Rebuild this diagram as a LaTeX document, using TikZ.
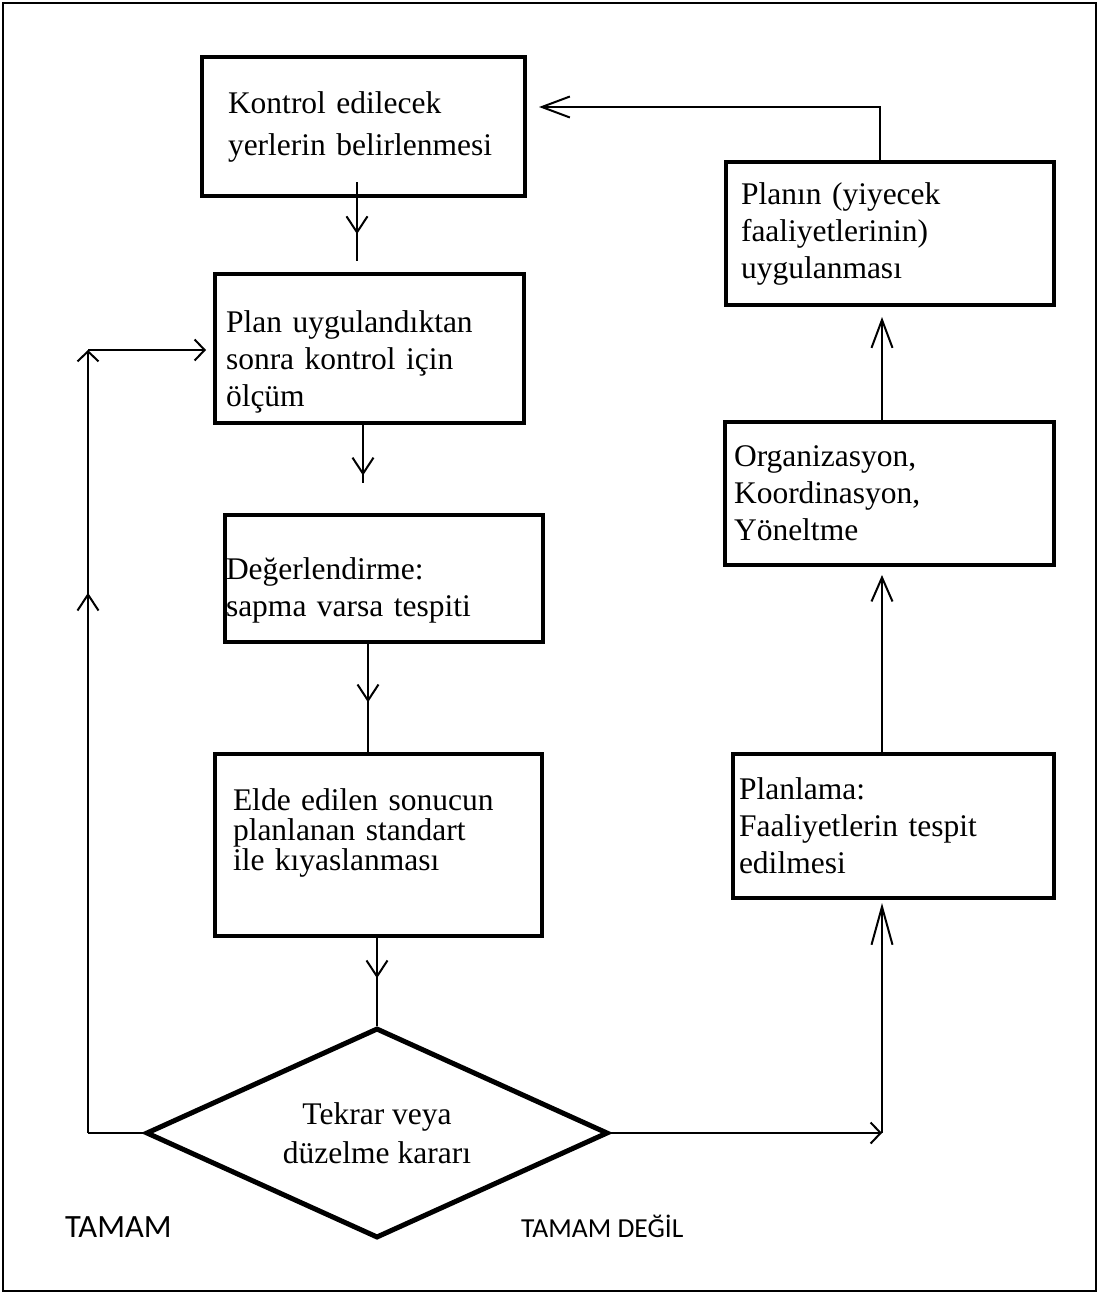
\documentclass[tikz,border=0pt]{standalone}
\usepackage{fontspec}
\setmainfont{Liberation Serif}
\newfontfamily\etiketfont{Carlito}
\usetikzlibrary{shapes.geometric,arrows.meta,decorations.markings,positioning}

\tikzset{
  kutu/.style={draw, line width=4pt, inner ysep=0pt, align=left, font=\fontsize{31.5}{37}\selectfont},
  karar/.style={draw, diamond, line width=5pt, aspect=2.2, inner sep=0pt, align=center, font=\fontsize{31.5}{39}\selectfont},
  etiket/.style={font=\etiketfont\fontsize{27.5}{30}\selectfont, inner sep=0pt, anchor=base west},
  ok/.style={line width=2pt, -{Straight Barb[length=#1, width=21pt]}},
  ok/.default=14pt,
  ortaok/.style={line width=2pt, postaction={decorate},
    decoration={markings, mark=at position #1 with {\arrow{Straight Barb[length=16pt, width=21pt]}}}}
}

\begin{document}
\begin{tikzpicture}[x=1pt,y=-1pt]
\useasboundingbox (0,0) rectangle (1099,1295);
% Frame
\draw[line width=1.5pt] (3,3) rectangle (1096,1291);
% Left column
\node[kutu, minimum width=323pt, minimum height=139pt, text width=271pt, inner xsep=26pt] (kontrol) at (363.5,126.5)
  {Kontrol edilecek\\[5pt]yerlerin belirlenmesi};
\node[kutu, minimum width=309pt, minimum height=149pt, text width=287pt, inner xsep=11pt] (olcum) at (369.5,348.5)
  {\rule{0pt}{48pt}Plan uygulandıktan\\sonra kontrol için\\ölçüm};
\node[kutu, minimum width=318pt, minimum height=127pt, text width=316pt, inner xsep=1pt] (deger) at (384,578.5)
  {\rule{0pt}{46pt}Değerlendirme:\\sapma varsa tespiti};
\node[kutu, minimum width=327pt, minimum height=182pt, text width=291pt, inner xsep=18pt,
  font=\fontsize{31.5}{30}\selectfont] (kiyas) at (378.5,845)
  {Elde edilen sonucun\\planlanan standart\\ile kıyaslanması\rule[-31pt]{0pt}{31pt}};
% Decision
\node[karar, minimum width=462pt, minimum height=210pt] (karar) at (377,1133) {Tekrar veya\\düzelme kararı};
% Right column
\node[kutu, minimum width=321pt, minimum height=144pt, text width=309pt, inner xsep=6pt] (planlama) at (893.5,826)
  {Planlama:\\Faaliyetlerin tespit\\edilmesi};
\node[kutu, minimum width=329pt, minimum height=143pt, text width=311pt, inner xsep=9pt] (organ) at (889.5,493.5)
  {Organizasyon,\\Koordinasyon,\\Yöneltme};
\node[kutu, minimum width=328pt, minimum height=143pt, text width=298pt, inner xsep=15pt] (uygula) at (890,233.5)
  {Planın (yiyecek\\faaliyetlerinin)\\uygulanması};
% Labels
\node[etiket, font=\etiketfont\fontsize{32.5}{34}\selectfont] (tamam) at (65,1237) {TAMAM};
\node[etiket] (degil) at (521,1237) {TAMAM DEĞİL};
% Down the left column
\draw[ortaok=0.66] ([xshift=-6.5pt,yshift=16pt]kontrol.south) -- ([xshift=-12.5pt,yshift=11pt]olcum.north);
\draw[ortaok=0.87] ([xshift=-6.5pt]olcum.south) -- ([xshift=-21pt,yshift=30pt]deger.north);
\draw[ortaok=0.54] ([xshift=-16pt]deger.south) -- ([xshift=-10.5pt]kiyas.north);
\draw[ortaok=0.46] ([xshift=-1.5pt]kiyas.south) -- (karar.north);
% TAMAM loop
\coordinate (solalt) at (88,1133);
\coordinate (solust) at (88,350);
\draw[line width=2pt] (karar.west) -- (solalt);
\draw[ortaok=0.69, ok=10pt] (solalt) -- (solust);
\draw[ok=10pt, shorten >=7pt] (solust) -- (solust -| olcum.west);
% TAMAM DEGIL path
\coordinate (sagalt) at (882,1133);
\coordinate (sagust) at (880,107);
\draw[ok=10pt] (karar.east) -- (sagalt);
\draw[ok=38pt, shorten >=3pt] (sagalt) -- (sagalt |- planlama.south);
\draw[ok=24pt, shorten >=8pt] (planlama.north -| sagalt) -- (organ.south -| sagalt);
\draw[ok=28pt, shorten >=10pt] (organ.north -| sagalt) -- (uygula.south -| sagalt);
\draw[ok=28pt, shorten >=12pt] (uygula.north -| sagust) -- (sagust) -- (sagust -| kontrol.east);
\end{tikzpicture}
\end{document}
